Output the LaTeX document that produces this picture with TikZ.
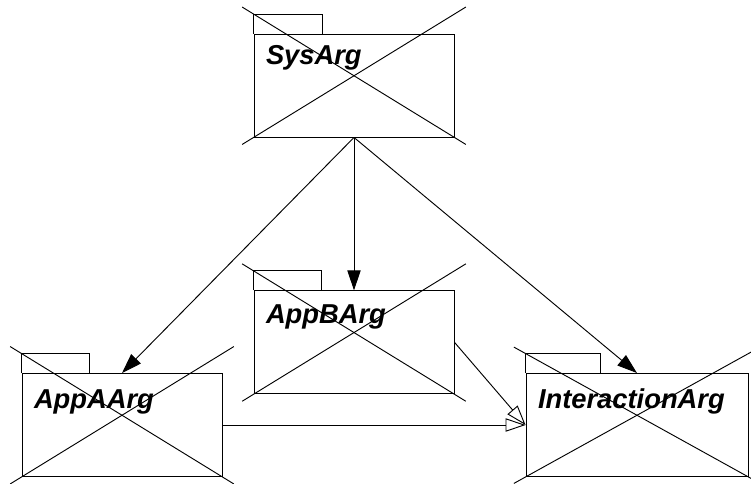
\documentclass[tikz,border=0pt]{standalone}
\usepackage{fontspec}
\setsansfont{Liberation Sans}
\usetikzlibrary{arrows.meta,calc}
\newcommand{\pkgname}[1]{{\fontsize{20.5pt}{24pt}\selectfont\sffamily\bfseries\itshape #1}}
% tab and cross-out of a package body
\newcommand{\pkgdeco}[2]{%
  \draw (#1.north west) -- ++(0,-19.5) -- ++(#2,0) -- ++(0,19.5);
  \draw[cross] ($(#1.north west)+(0,-19.5)$) -- (#1.south east);
  \draw[cross] (#1.south west) -- ($(#1.north east)+(0,-19.5)$);
}

\begin{document}
\begin{tikzpicture}[
    x=0.75pt, y=-0.75pt, line width=0.7pt,
    pkg/.style={rectangle, draw=black, minimum width=150pt, minimum height=77.25pt, inner sep=0pt},
    cross/.style={shorten <=-10pt, shorten >=-10pt},
    label/.style={anchor=base west, inner sep=0pt},
    dep/.style={-{Triangle[length=15pt,width=10pt]}},
    gen/.style={-{Triangle[open,length=15pt,width=10pt,fill=white]}}
]
\useasboundingbox (0,0) rectangle (751,483);

% Pacchetti
\node[pkg] (sys) at (354,85.5) {};
\node[pkg] (appb) at (354,342.3) {};
\node[pkg] (appa) at (122,425) {};
\node[pkg, minimum width=166.5pt] (inter) at (637,425) {};

\pkgdeco{sys}{69}
\pkgdeco{appb}{68}
\pkgdeco{appa}{68}
\pkgdeco{inter}{75}

% Nomi
\node[label] (sys-name) at ($(sys.north west)+(12,31)$) {\pkgname{SysArg}};
\node[label] (appb-name) at ($(appb.north west)+(12,33)$) {\pkgname{AppBArg}};
\node[label] (appa-name) at ($(appa.north west)+(12,35)$) {\pkgname{AppAArg}};
\node[label] (inter-name) at ($(inter.north west)+(12,35)$) {\pkgname{InteractionArg}};

% Dipendenze
\draw[dep] (sys.south) -- (appb.north);
\draw[dep] (sys.south) -- (appa.north);
\draw[dep] (sys.south) -- (inter.north);
\draw[gen] (appa.east) -- (inter.west);
\draw[gen] (appb.east) -- (inter.west);

\end{tikzpicture}
\end{document}
